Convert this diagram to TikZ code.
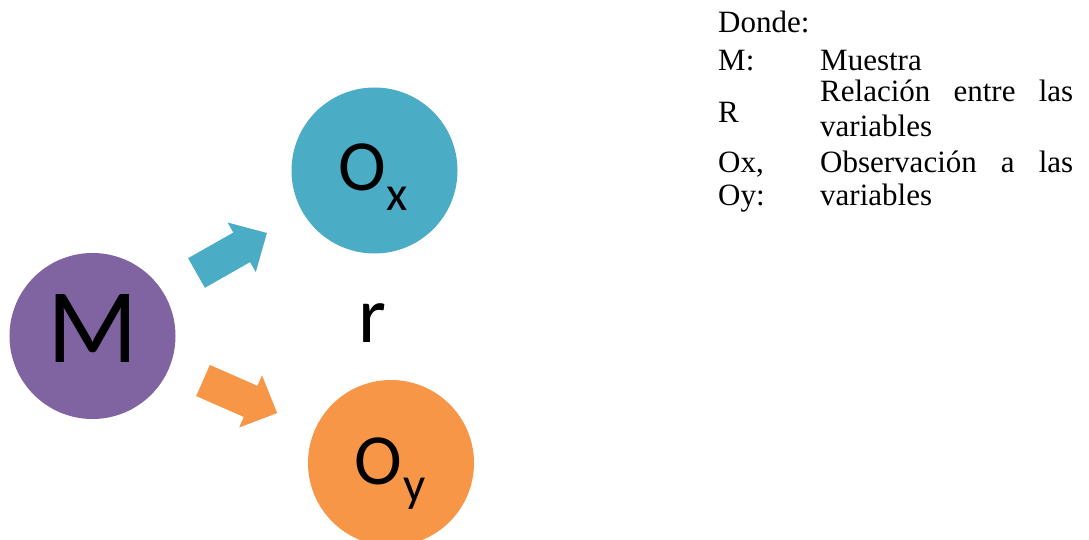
\documentclass[tikz,border=0pt]{standalone}
\usepackage{fontspec}
\setmainfont{Liberation Serif}
\newfontfamily\circfont{Carlito}
\definecolor{mpurple}{HTML}{8064A2}
\definecolor{oteal}{HTML}{4BACC6}
\definecolor{oorange}{HTML}{F79646}
\begin{document}
\begin{tikzpicture}[x=1pt,y=-1pt,
  disc/.style={circle,minimum size=166pt,inner sep=0pt,draw=none},
  big/.style={inner sep=0pt,anchor=base west,font=\circfont\fontsize{72}{72}\selectfont},
  sub/.style={inner sep=0pt,anchor=base west,font=\circfont\fontsize{49}{49}\selectfont},
  legend/.style={inner sep=0pt,anchor=base west,font=\fontsize{31}{34}\selectfont},
  blockarrow/.pic={\fill (0,-17) -- (52,-17) -- (52,-28.5) -- (81,0) -- (52,28.5) -- (52,17) -- (0,17) -- cycle;}]
\useasboundingbox (0,0) rectangle (1089,540);
\clip (0,0) rectangle (1089,540);

% sample, observations
\node[disc,fill=mpurple] (M) at (92.5,336) {};
\node[disc,fill=oteal]   (Ox) at (374.5,170.5) {};
\node[disc,fill=oorange] (Oy) at (391,463) {};

\node[inner sep=0pt,anchor=base,font=\circfont\fontsize{106}{106}\selectfont] (Mtxt) at (92.5,362) {M};
\node[big] (OxO) at (338,191) {O};
\node[sub] (OxS) at (386,211) {x};
\node[big] (OyO) at (354,484) {O};
\node[sub] (OyS) at (403,501) {y};
\node[inner sep=0pt,anchor=base,font=\circfont\fontsize{80}{80}\selectfont] (r) at (372,342) {r};

% block arrows from the sample to each observation
\pic[oteal]   at (196.5,273) [rotate=29.6]  {blockarrow};
\pic[oorange] at (203,380.5) [rotate=-23.7] {blockarrow};

% legend
\node[legend] (don) at (718,33) {Donde:};
\node[legend] (kM) at (718,71) {M:};
\node[legend] (vM) at (820,71) {Muestra};
\node[legend] (vR1) at (820,102) {\makebox[253pt][s]{Relación entre las}};
\node[legend] (kR) at (718,123) {R};
\node[legend] (vR2) at (820,137) {variables};
\node[legend] (kO1) at (718,173) {Ox,};
\node[legend] (vO1) at (820,173) {\makebox[253pt][s]{Observación a las}};
\node[legend] (kO2) at (718,206) {Oy:};
\node[legend] (vO2) at (820,206) {variables};
\end{tikzpicture}
\end{document}
